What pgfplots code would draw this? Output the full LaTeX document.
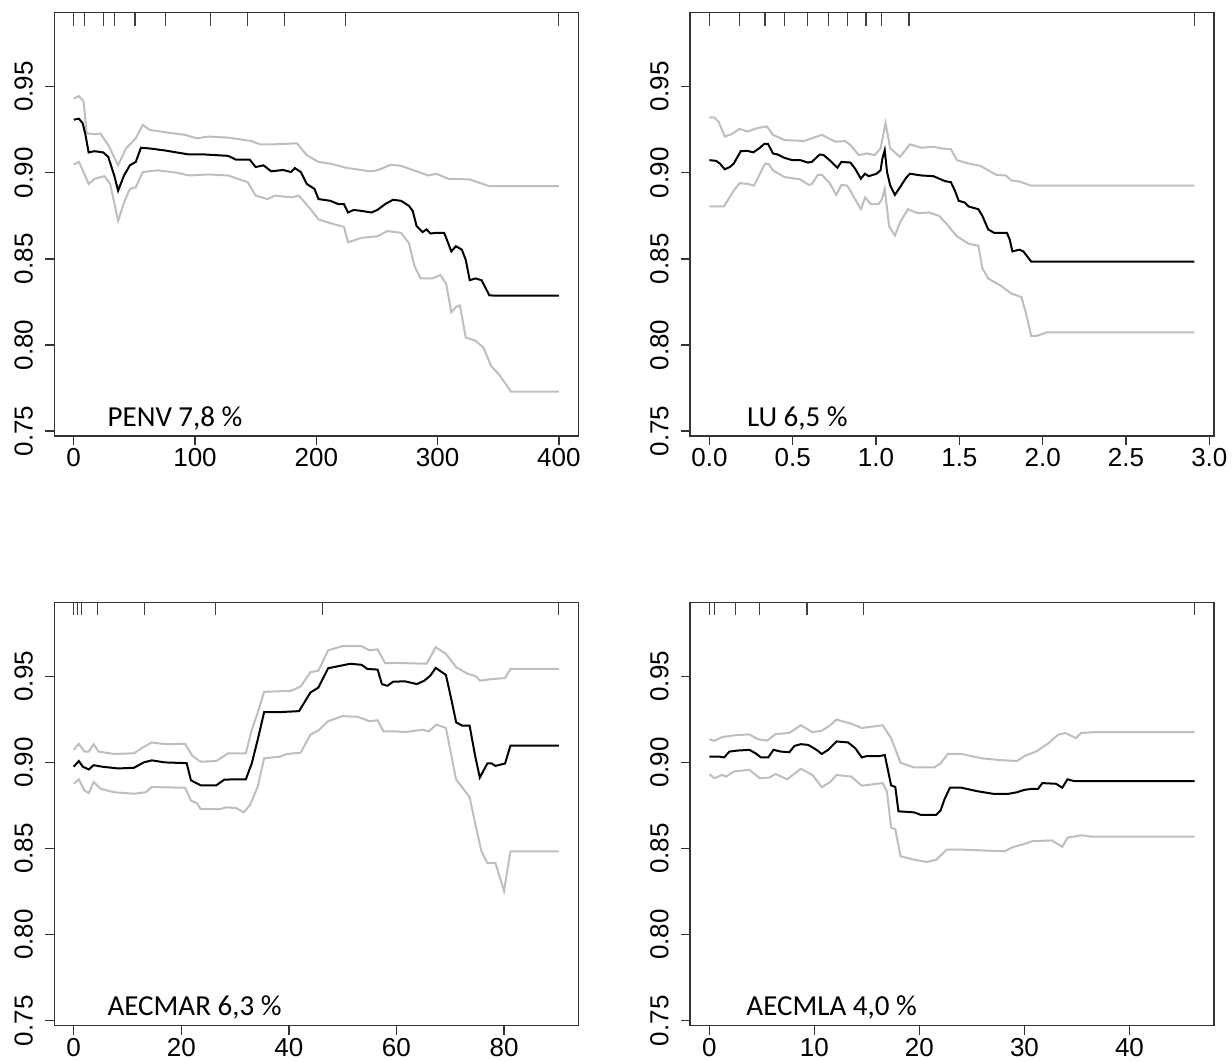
\documentclass[border=0pt]{standalone}
\usepackage{fontspec}
\setmainfont{Liberation Sans}
\newfontfamily\calib{Carlito}
\usepackage{pgfplots}
\pgfplotsset{compat=1.18}
\definecolor{rgray}{RGB}{190,190,190}
\tikzset{lab/.style={anchor=base west, inner sep=0pt, font=\calib\fontsize{14.5}{14.5}\selectfont}}
\pgfplotsset{
  panel/.style={
    scale only axis, width=262pt, height=211.7pt, anchor=south west,
    ymin=0.7471, ymax=0.9930,
    axis line style={black!80, line width=0.7pt},
    every tick/.style={black!80, line width=0.7pt},
    tick align=outside,
    xtick pos=bottom, ytick pos=left,
    major tick length=4.5pt,
    ytick={0.75,0.80,0.85,0.90,0.95},
    yticklabels={0.75,0.80,0.85,0.90,0.95},
    yticklabel shift=6pt, xticklabel shift=1.5pt,
    yticklabel style={rotate=90, anchor=south, inner sep=0pt, font=\fontsize{13}{13}\selectfont},
    xticklabel style={anchor=north, inner sep=0pt, font=\fontsize{13}{13}\selectfont},
    clip=false,
  },
  mean/.style={black, line width=1pt},
  band/.style={rgray, line width=1pt},
  rug/.style={only marks, mark=|, mark size=3.25pt, mark options={black!75, line width=0.6pt}},
}
\begin{document}
\begin{tikzpicture}
\useasboundingbox (0,0) rectangle (616pt,530.5pt);
% Panel 1
\begin{axis}[panel, at={(27.15pt,312.5pt)}, xmin=-16, xmax=416,
  xtick={0,100,200,300,400}, xticklabels={0,100,200,300,400}]
\addplot[band] coordinates {(0,0.9431)(4.2,0.9445)(8.1,0.9416)(10.7,0.9229)(17.2,0.9224)(22,0.9227)(28.5,0.9161)(36.6,0.9043)(43.1,0.9141)(51.2,0.92)(57,0.9278)(62.5,0.9249)(75.5,0.9235)(91.7,0.922)(101.4,0.92)(111.1,0.921)(127.3,0.9204)(146.7,0.9184)(153.2,0.9165)(166.2,0.9165)(184,0.9171)(192.1,0.9102)(201.8,0.9063)(211.5,0.9053)(224.4,0.9029)(244.4,0.9008)(250.4,0.9014)(261.7,0.9047)(269.8,0.904)(282.7,0.9008)(292.4,0.8984)(299,0.8994)(308.7,0.8965)(326.5,0.8961)(333,0.8945)(342.7,0.8922)(400,0.8922)};
\addplot[band] coordinates {(0,0.9047)(4.2,0.9063)(8.1,0.9004)(12.3,0.8935)(17.2,0.8965)(25.3,0.898)(30.1,0.8935)(36.6,0.872)(41.5,0.8827)(46.3,0.8906)(51.2,0.8916)(57,0.9004)(69,0.9014)(85.2,0.9)(94.9,0.8984)(111.1,0.899)(127.3,0.8984)(143.5,0.8945)(150,0.8867)(159.7,0.8847)(166.2,0.8867)(179.1,0.8857)(185.6,0.8867)(195.3,0.8788)(201.8,0.8729)(214.8,0.87)(222.8,0.8686)(226.1,0.8596)(237.4,0.8622)(250.4,0.8631)(258.5,0.8661)(269.8,0.8651)(276.3,0.8592)(281.1,0.8455)(286,0.8386)(295.7,0.8386)(302.2,0.8406)(307,0.8357)(311.3,0.819)(315.1,0.822)(318.4,0.8229)(323.2,0.8043)(331.3,0.8024)(337.8,0.7984)(344.3,0.7876)(350.8,0.7827)(360.5,0.7729)(400,0.7729)};
\addplot[mean] coordinates {(0,0.9308)(4.2,0.9314)(7.4,0.9288)(9.7,0.922)(12.3,0.9118)(17.2,0.9125)(24.3,0.9118)(28.5,0.9092)(33.4,0.8984)(36.6,0.8896)(41.5,0.8984)(46.3,0.9043)(51.2,0.9063)(55.4,0.9145)(62.5,0.9141)(75.5,0.9129)(94.9,0.9106)(107.9,0.9106)(117.5,0.9102)(127.3,0.9098)(133.8,0.9076)(145.1,0.9076)(150,0.9033)(156.4,0.9043)(162.9,0.9008)(172.6,0.9016)(179.1,0.9004)(182.3,0.9027)(187.2,0.9004)(192.1,0.8935)(198.5,0.8906)(201.8,0.8847)(211.5,0.8837)(218,0.8818)(222.8,0.8818)(226.1,0.8769)(230.9,0.8784)(237.4,0.8778)(245.5,0.8769)(250.4,0.8784)(256.8,0.8818)(263.3,0.8843)(269.8,0.8837)(276.3,0.8808)(279.5,0.8778)(282.7,0.869)(287.6,0.8655)(290.9,0.8671)(294.1,0.8647)(299,0.8651)(305.4,0.8651)(308.7,0.8592)(311.3,0.8543)(315.1,0.8573)(320,0.8553)(323.2,0.8494)(326.5,0.8376)(331.3,0.8386)(336.2,0.8376)(342.7,0.8288)(347.5,0.8286)(400,0.8286)};
\addplot[rug] coordinates {(0,0.9892)(9.1,0.9892)(24.3,0.9892)(33.4,0.9892)(50.5,0.9892)(75.8,0.9892)(113,0.9892)(143,0.9892)(174,0.9892)(224,0.9892)(400,0.9892)};
\node[lab] at (rel axis cs:0.101,0.0236) {PENV 7,8 \%};
\end{axis}
% Panel 2
\begin{axis}[panel, at={(345pt,312.5pt)}, xmin=-0.1165, xmax=3.028,
  xtick={0,0.5,1,1.5,2,2.5,3}, xticklabels={0.0,0.5,1.0,1.5,2.0,2.5,3.0}]
\addplot[band] coordinates {(0,0.9322)(0.028,0.9322)(0.056,0.9294)(0.092,0.921)(0.134,0.9224)(0.181,0.9255)(0.228,0.9239)(0.287,0.9259)(0.345,0.9269)(0.381,0.922)(0.451,0.919)(0.568,0.9184)(0.615,0.92)(0.674,0.922)(0.756,0.918)(0.815,0.9184)(0.846,0.9161)(0.897,0.9102)(0.944,0.9112)(0.991,0.9102)(1.027,0.9141)(1.057,0.9288)(1.085,0.9141)(1.144,0.9092)(1.203,0.9165)(1.273,0.9145)(1.344,0.9151)(1.391,0.9141)(1.449,0.9137)(1.485,0.9073)(1.555,0.9053)(1.626,0.904)(1.673,0.9014)(1.720,0.8988)(1.778,0.8984)(1.813,0.8955)(1.860,0.8949)(1.931,0.8925)(2.91,0.8925)};
\addplot[band] coordinates {(0,0.8804)(0.087,0.8804)(0.146,0.8896)(0.181,0.8939)(0.228,0.8935)(0.268,0.8925)(0.298,0.8984)(0.334,0.9053)(0.357,0.9049)(0.381,0.9014)(0.451,0.8975)(0.545,0.8961)(0.597,0.8929)(0.615,0.8935)(0.651,0.8988)(0.674,0.8988)(0.721,0.8941)(0.761,0.8871)(0.792,0.8929)(0.827,0.8925)(0.862,0.8867)(0.909,0.8788)(0.935,0.8857)(0.968,0.8818)(1.015,0.8818)(1.034,0.8843)(1.052,0.8906)(1.078,0.869)(1.113,0.8635)(1.144,0.8712)(1.191,0.8788)(1.250,0.8765)(1.320,0.8769)(1.379,0.8749)(1.426,0.87)(1.485,0.8631)(1.555,0.8588)(1.614,0.8576)(1.638,0.8445)(1.673,0.8386)(1.743,0.8347)(1.813,0.8298)(1.872,0.8278)(1.896,0.8198)(1.931,0.8053)(1.966,0.8053)(2.025,0.8073)(2.91,0.8073)};
\addplot[mean] coordinates {(0,0.9073)(0.04,0.9069)(0.063,0.9053)(0.092,0.902)(0.122,0.9033)(0.146,0.9053)(0.188,0.9125)(0.228,0.9127)(0.263,0.9118)(0.298,0.9141)(0.329,0.9167)(0.352,0.9167)(0.381,0.9112)(0.409,0.9106)(0.451,0.9086)(0.498,0.9073)(0.545,0.9073)(0.592,0.9059)(0.615,0.9063)(0.662,0.9106)(0.686,0.9102)(0.721,0.9073)(0.768,0.9029)(0.792,0.9063)(0.846,0.9059)(0.874,0.9024)(0.909,0.8965)(0.933,0.8994)(0.956,0.898)(1.003,0.8994)(1.027,0.9014)(1.038,0.9082)(1.052,0.9131)(1.066,0.9004)(1.085,0.8925)(1.113,0.8871)(1.144,0.8916)(1.179,0.8969)(1.203,0.8994)(1.273,0.8984)(1.344,0.898)(1.414,0.8951)(1.449,0.8945)(1.473,0.8896)(1.496,0.8837)(1.532,0.8827)(1.555,0.8804)(1.614,0.8788)(1.638,0.8749)(1.673,0.8671)(1.708,0.8651)(1.785,0.8651)(1.802,0.8612)(1.818,0.8543)(1.860,0.8553)(1.884,0.8543)(1.931,0.8484)(2.91,0.8484)};
\addplot[rug] coordinates {(0,0.9892)(0.181,0.9892)(0.334,0.9892)(0.451,0.9892)(0.587,0.9892)(0.716,0.9892)(0.827,0.9892)(0.940,0.9892)(1.034,0.9892)(1.198,0.9892)(2.91,0.9892)};
\node[lab] at (rel axis cs:0.108,0.0236) {LU 6,5 \%};
\end{axis}
% Panel 3
\begin{axis}[panel, at={(27.15pt,17.65pt)}, xmin=-3.61, xmax=93.81,
  xtick={0,20,40,60,80}, xticklabels={0,20,40,60,80}]
\addplot[band] coordinates {(0,0.9073)(0.95,0.9108)(2,0.9063)(2.8,0.9063)(3.7,0.9106)(4.6,0.9063)(7.5,0.9049)(11.2,0.9053)(12.6,0.9082)(14.5,0.9116)(17,0.9106)(20.7,0.9108)(22.1,0.9037)(23.6,0.9004)(26.5,0.9008)(28.7,0.9053)(32,0.9053)(33.1,0.919)(34.2,0.9288)(35.4,0.941)(40.4,0.9416)(42.2,0.9441)(44,0.9524)(45.5,0.9533)(47.3,0.9651)(49.9,0.9675)(53.5,0.9675)(55,0.9651)(56.5,0.9657)(57.9,0.9576)(60.1,0.9578)(65.6,0.9573)(66.3,0.9612)(67.3,0.9669)(69.2,0.9631)(71.1,0.9553)(73.3,0.9514)(74.8,0.95)(75.5,0.9475)(77.7,0.9484)(80.2,0.949)(81.2,0.9543)(90.2,0.9543)};
\addplot[band] coordinates {(0,0.8876)(0.95,0.8902)(2,0.8837)(2.8,0.8822)(3.7,0.8886)(5,0.8847)(7.5,0.8827)(11.2,0.8818)(13.4,0.8827)(14.5,0.8857)(20.7,0.8853)(21.8,0.8778)(22.9,0.8763)(23.6,0.8729)(27.2,0.8729)(28.3,0.8739)(30.2,0.8735)(31.6,0.871)(32.7,0.8749)(34.2,0.8857)(35.4,0.9024)(38.2,0.9033)(39.7,0.9049)(42.2,0.9057)(44,0.9161)(45.5,0.9186)(47.3,0.9239)(49.9,0.9269)(52.8,0.9265)(55,0.9239)(56.5,0.9245)(57.6,0.918)(60.1,0.918)(61.6,0.9176)(64.9,0.919)(66,0.918)(67.4,0.922)(69.2,0.92)(71.1,0.89)(72.2,0.8857)(73.6,0.8798)(74.8,0.8622)(75.8,0.8484)(76.9,0.8416)(78.4,0.8416)(80,0.8253)(81.2,0.8484)(90.2,0.8484)};
\addplot[mean] coordinates {(0,0.8975)(0.95,0.9008)(1.7,0.8975)(2.8,0.8959)(3.7,0.8984)(5.3,0.8975)(8.3,0.8965)(11.2,0.8969)(13,0.9)(14.5,0.9012)(17,0.9)(21,0.8996)(21.8,0.8896)(23.6,0.8867)(26.5,0.8867)(28,0.89)(30.2,0.8902)(32,0.8902)(33.1,0.8994)(34.2,0.9131)(35.4,0.9292)(38.2,0.9292)(41.9,0.9298)(44,0.9406)(45.5,0.9435)(47.3,0.9547)(49.2,0.9559)(51.4,0.9573)(53.5,0.9567)(54.6,0.9543)(56.5,0.9539)(57.3,0.9455)(58.3,0.9445)(59.4,0.9469)(61.6,0.9471)(63.8,0.9455)(65.2,0.9475)(66.3,0.9504)(67.3,0.9549)(69.2,0.9508)(70.2,0.9367)(71.1,0.9233)(72.2,0.9214)(73.6,0.9214)(74.6,0.9043)(75.5,0.8912)(76.9,0.8994)(77.7,0.8994)(78.4,0.898)(80.2,0.8994)(81.2,0.9098)(90.2,0.9098)};
\addplot[rug] coordinates {(0,0.9892)(0.67,0.9892)(1.5,0.9892)(4.4,0.9892)(13.1,0.9892)(26.4,0.9892)(46.2,0.9892)(90.2,0.9892)};
\node[lab] at (rel axis cs:0.101,0.025) {AECMAR 6,3 \%};
\end{axis}
% Panel 4
\begin{axis}[panel, at={(345pt,17.65pt)}, xmin=-1.85, xmax=48.05,
  xtick={0,10,20,30,40}, xticklabels={0,10,20,30,40}]
\addplot[band] coordinates {(0,0.9135)(0.45,0.9125)(1.2,0.9147)(2.3,0.9157)(3.8,0.9163)(4.6,0.9135)(5.5,0.9127)(6.3,0.9165)(7.6,0.9171)(8.7,0.9216)(9.8,0.9176)(10.7,0.9184)(11.5,0.9216)(12.1,0.9249)(13.5,0.9225)(14.5,0.92)(16.5,0.9216)(17.3,0.9141)(18.2,0.8998)(19.5,0.8971)(21.4,0.8971)(22,0.8994)(22.7,0.9049)(24,0.9049)(25.9,0.9024)(27.6,0.9014)(29.3,0.9008)(30,0.9037)(31.1,0.9063)(32.3,0.9112)(33.2,0.9161)(33.9,0.9171)(34.9,0.9141)(35.4,0.9171)(36.8,0.9176)(46.2,0.9176)};
\addplot[band] coordinates {(0,0.8933)(0.45,0.8908)(1.2,0.8927)(1.6,0.8918)(2.3,0.8947)(3.8,0.8957)(4.8,0.8908)(5.7,0.8912)(6.3,0.8933)(7.4,0.8902)(8.7,0.8963)(9.8,0.8927)(10.7,0.8857)(11.5,0.8886)(12.1,0.8927)(13.5,0.8918)(14.5,0.8865)(16.5,0.888)(16.9,0.8831)(17.3,0.8622)(17.7,0.8612)(18.2,0.8455)(19.5,0.8435)(20.7,0.8422)(21.6,0.8435)(22.6,0.8494)(24,0.8494)(26.3,0.8488)(28.1,0.8484)(28.9,0.8508)(30,0.8527)(30.8,0.8543)(32.6,0.8547)(33.6,0.851)(34.1,0.8563)(35.4,0.8577)(36.4,0.8569)(46.2,0.8569)};
\addplot[mean] coordinates {(0,0.9033)(1.0,0.9033)(1.4,0.9029)(1.9,0.9063)(2.7,0.9069)(3.8,0.9073)(4.4,0.9053)(4.9,0.9029)(5.6,0.9029)(6.1,0.9073)(6.8,0.9063)(7.6,0.9059)(8.1,0.9096)(8.7,0.9106)(9.4,0.9102)(10.2,0.9073)(10.7,0.9049)(11.3,0.9073)(12.1,0.9122)(13.2,0.9116)(13.9,0.9082)(14.5,0.9029)(15,0.9037)(16.2,0.9037)(16.7,0.9043)(17,0.8955)(17.3,0.8867)(17.7,0.8857)(18,0.8716)(19.5,0.871)(20.1,0.8696)(21.6,0.8696)(22,0.872)(22.4,0.8788)(22.9,0.8853)(24,0.8853)(25.5,0.8833)(27,0.8818)(28.5,0.8818)(29.3,0.8827)(30,0.8841)(30.8,0.8847)(31.3,0.8847)(31.7,0.888)(33,0.8876)(33.6,0.8853)(34.1,0.8902)(34.7,0.8892)(36,0.8892)(46.2,0.8892)};
\addplot[rug] coordinates {(0,0.9892)(0.45,0.9892)(2.5,0.9892)(4.75,0.9892)(9.3,0.9892)(14.7,0.9892)(46.2,0.9892)};
\node[lab] at (rel axis cs:0.107,0.025) {AECMLA 4,0 \%};
\end{axis}
\end{tikzpicture}
\end{document}
